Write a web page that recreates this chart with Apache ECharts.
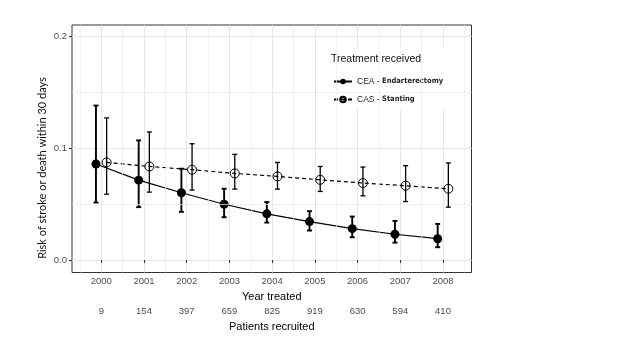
<!DOCTYPE html>
<html><head><meta charset="utf-8">
<script src="https://cdn.jsdelivr.net/npm/echarts@6/dist/echarts.min.js"></script>
<style>html,body{margin:0;padding:0;background:#fff}#c{width:640px;height:360px}</style>
</head><body><div id="c"></div>
<script>
const years = [2000, 2001, 2002, 2003, 2004, 2005, 2006, 2007, 2008];
const patients = [9, 154, 397, 659, 825, 919, 630, 594, 410];
const ceaRisk = [0.0857, 0.0713, 0.0600, 0.0498, 0.0412, 0.0343, 0.0280, 0.0230, 0.0190];
const ceaLow  = [0.0513, 0.0472, 0.0430, 0.0382, 0.0334, 0.0263, 0.0203, 0.0155, 0.0114];
const ceaHigh = [0.1379, 0.1068, 0.0815, 0.0636, 0.0517, 0.0436, 0.0388, 0.0349, 0.0322];
const casRisk = [0.0871, 0.0835, 0.0806, 0.0773, 0.0746, 0.0716, 0.0687, 0.0663, 0.0636];
const casLow  = [0.0588, 0.0606, 0.0624, 0.0633, 0.0633, 0.0612, 0.0573, 0.0522, 0.0472];
const casHigh = [0.1268, 0.1143, 0.1038, 0.0943, 0.0871, 0.0835, 0.0830, 0.0842, 0.0866];
const yTicks = [0, 0.1, 0.2];
const xMinorGrid = [1999.5, 2000.5, 2001.5, 2002.5, 2003.5, 2004.5, 2005.5, 2006.5, 2007.5, 2008.5];
const yMinorGrid = [0.05, 0.15];
const seriesNames = ['CEA - Endarterectomy', 'CAS - Stanting'];
const dodge = 0.125;

const chart = echarts.init(document.getElementById('c'), null, {renderer: 'canvas'});

function errRender(lw) {
  return function (params, api) {
    const x = api.value(0), lo = api.value(1), hi = api.value(2);
    const a = api.coord([x, lo]), b = api.coord([x, hi]);
    const cw = 2.5;
    const st = {stroke: '#000', lineWidth: lw};
    return {type: 'group', children: [
      {type: 'line', shape: {x1: a[0], y1: a[1], x2: b[0], y2: b[1]}, style: st},
      {type: 'line', shape: {x1: a[0] - cw, y1: a[1], x2: a[0] + cw, y2: a[1]}, style: st},
      {type: 'line', shape: {x1: b[0] - cw, y1: b[1], x2: b[0] + cw, y2: b[1]}, style: st}
    ]};
  };
}

const tickFont = {fontFamily: 'Liberation Sans', fontSize: 9.5, color: '#4d4d4d'};

const option = {
  animation: false,
  backgroundColor: '#fff',
  grid: {left: 72, top: 25, width: 399.5, height: 247.5, show: true, borderColor: '#333', borderWidth: 1, backgroundColor: '#fff'},
  xAxis: [{
    type: 'value', min: 1999.314, max: 2008.667,
    axisLine: {show: false},
    axisTick: {show: true, length: 3, lineStyle: {color: '#333'}, customValues: years},
    axisLabel: Object.assign({customValues: years, margin: 4, formatter: v => String(v)}, tickFont),
    splitLine: {show: true, lineStyle: {color: '#e6e6e6', width: 1}},
    name: 'Year treated', nameLocation: 'middle', nameGap: 13,
    nameTextStyle: {fontFamily: 'Liberation Sans', fontSize: 11, color: '#000'}
  }, {
    type: 'value', min: 1999.314, max: 2008.667, position: 'bottom', offset: 30,
    axisLine: {show: false},
    axisTick: {show: false, customValues: years},
    axisLabel: Object.assign({customValues: years, margin: 4,
      formatter: v => { const i = years.indexOf(Math.round(v)); return i >= 0 ? String(patients[i]) : ''; }}, tickFont),
    splitLine: {show: false},
    name: 'Patients recruited', nameLocation: 'middle', nameGap: 13,
    nameTextStyle: {fontFamily: 'Liberation Sans', fontSize: 11, color: '#000'}
  }],
  yAxis: {
    type: 'value', min: -0.01116, max: 0.2098,
    axisLine: {show: false},
    axisTick: {show: true, length: 3, lineStyle: {color: '#333'}, customValues: yTicks},
    axisLabel: Object.assign({customValues: yTicks, margin: 5, formatter: v => v.toFixed(1)}, tickFont),
    splitLine: {show: true, lineStyle: {color: '#e6e6e6', width: 1}}
  },
  legend: {
    left: 328, top: 72, orient: 'vertical', itemWidth: 18, itemHeight: 7, itemGap: 9,
    data: seriesNames,
    formatter: n => { const p = n.split(' - '); return '{a|' + p[0] + ' - }{b|' + p[1] + '}'; },
    textStyle: {rich: {
      a: {fontFamily: 'Liberation Sans', fontSize: 8.5, color: '#222'},
      b: {fontFamily: 'DejaVu Sans Condensed', fontSize: 7.5, fontWeight: 'bold', color: '#222'}
    }}
  },
  graphic: [
    {type: 'rect', z: 3, shape: {x: 316, y: 47, width: 146, height: 62}, style: {fill: '#fff'}},
    {type: 'text', z: 5, x: 331, y: 54, style: {text: 'Treatment received', font: '10.5px "Liberation Sans"', fill: '#111'}},
    {type: 'text', z: 5, x: 42, y: 168, rotation: Math.PI / 2,
      style: {text: 'Risk of stroke or death within 30 days', font: '11px Lato', fill: '#111', align: 'center', verticalAlign: 'middle'}}
  ],
  series: [
    {type: 'line', name: 'grid-minor', z: 1, silent: true, data: [], symbol: 'none',
      markLine: {silent: true, symbol: ['none', 'none'], label: {show: false}, animation: false,
        lineStyle: {color: '#ececec', width: 0.7, type: 'solid'},
        data: xMinorGrid.map(v => ({xAxis: v})).concat(yMinorGrid.map(v => ({yAxis: v})))}},
    {type: 'custom', name: 'CEA err', z: 3, renderItem: errRender(1.9),
      encode: {x: 0, y: [1, 2]}, data: years.map((y, i) => [y - dodge, ceaLow[i], ceaHigh[i]])},
    {type: 'custom', name: 'CAS err', z: 5, renderItem: errRender(1.3),
      encode: {x: 0, y: [1, 2]}, data: years.map((y, i) => [y + dodge, casLow[i], casHigh[i]])},
    {type: 'line', name: seriesNames[0], z: 4, data: years.map((y, i) => [y - dodge, ceaRisk[i]]),
      symbol: 'circle', symbolSize: 9,
      itemStyle: {color: '#000'}, lineStyle: {color: '#000', width: 1.2}},
    {type: 'line', name: seriesNames[1], z: 4, data: years.map((y, i) => [y + dodge, casRisk[i]]),
      symbol: 'circle', symbolSize: 9,
      itemStyle: {color: 'rgba(255,255,255,0)', borderColor: '#000', borderWidth: 1},
      lineStyle: {color: '#000', width: 1.2, type: [4, 3]}}
  ]
};
chart.setOption(option);
</script>
</body></html>
